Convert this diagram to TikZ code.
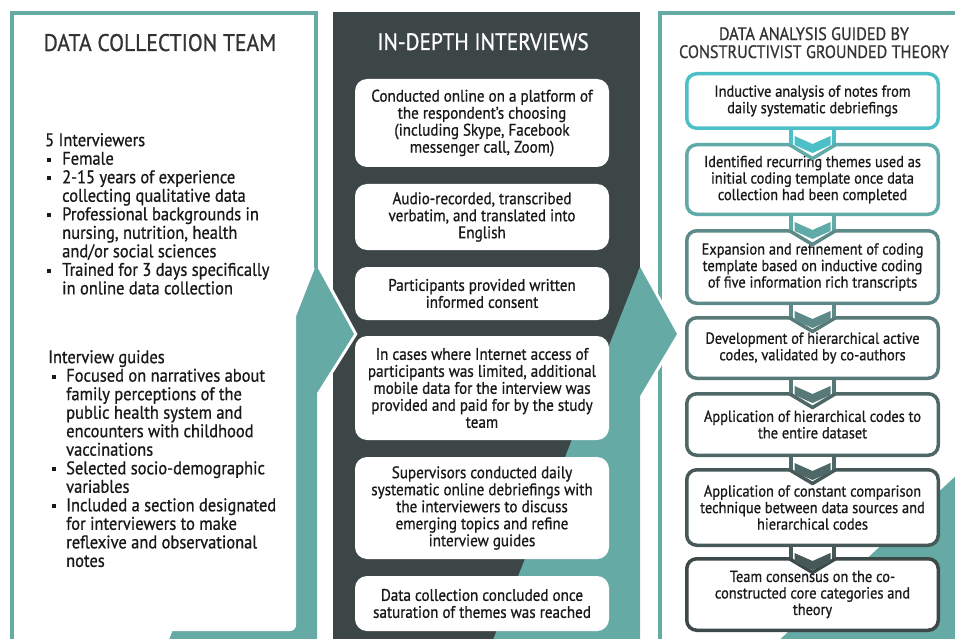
\documentclass[tikz,border=0pt]{standalone}
\usepackage{fontspec}
\setmainfont{PT Sans}[FakeStretch=0.9, FakeBold=0.8]
\usetikzlibrary{calc}
\definecolor{tealbase}{RGB}{102,170,166}
\definecolor{darkbase}{RGB}{61,70,71}
\colorlet{tealcol}{tealbase}
\colorlet{darkcol}{darkbase}
\colorlet{textcol}{black!90}
\colorlet{titlecol}{black!80}
\definecolor{code1col}{RGB}{76,192,198}
\definecolor{code2col}{RGB}{96,171,168}
\definecolor{code3col}{RGB}{93,138,136}
\definecolor{code4col}{RGB}{87,122,121}
\definecolor{code5col}{RGB}{78,103,103}
\definecolor{code6col}{RGB}{70,88,88}
\definecolor{code7col}{RGB}{61,72,72}
\newcommand{\sqbul}{\rule[3pt]{4pt}{4pt}}

\begin{document}
\begin{tikzpicture}[x=1pt, y=-1pt,
  midbox/.style={fill=white, rounded corners=12pt, minimum width=254pt,
    align=center, inner sep=0pt, text=textcol,
    font=\fontsize{16.8}{17}\selectfont},
  codebox/.style={draw=#1, line width=3.5pt, fill=white, rounded corners=10pt,
    minimum width=251.5pt, align=center, inner sep=0pt, text=textcol,
    font=\fontsize{16}{16.5}\selectfont}]

  \useasboundingbox (0,0) rectangle (955,639);

  % Middle column.
  \fill[darkcol] (333,12) rectangle (640,645);

  % Right panel frame and its teal corner.
  \fill[tealcol] (960,472) -- (960,645) -- (774,645) -- cycle;
  \draw[tealcol, line width=4pt] (660,645) -- (660,13.5) -- (960,13.5);

  % Teal band and arrow of the middle column.
  \draw[white, line width=6pt, line join=miter] (641,269) -- (677,334) -- (640,396);
  \fill[tealcol] (640,267) -- (677,334) -- (640,396) -- (640,645) -- (491,645) -- cycle;

  % Teal band and arrow of the left panel.
  \draw[white, line width=6pt, line join=miter] (318,268) -- (354,334) -- (317,393);
  \fill[tealcol] (316,265) -- (354,334) -- (317,393) -- (317,645) -- (167,645) -- cycle;

  % Left panel.
  \fill[white] (14,15.5) -- (314,15.5) -- (314,270) -- (296,316)
    [rounded corners=6pt] -- (296,631) -- (200,631)
    [sharp corners] -- (14,631) -- cycle;
  \draw[tealcol, line width=4pt] (12,645) -- (12,13.5) -- (316,13.5) -- (316,268);

  % Column titles.
  \node[anchor=base, inner sep=0pt, text=titlecol, font=\fontsize{24}{24}\selectfont]
    (teamtitle) at (160,51) {DATA COLLECTION TEAM};
  \node[anchor=base, inner sep=0pt, text=white, font=\fontsize{23.7}{23.7}\selectfont]
    (interviewtitle) at (483,50) {IN-DEPTH INTERVIEWS};
  \node[anchor=north, align=center, inner sep=0pt, text=titlecol,
    font=\fontsize{18}{18}\selectfont]
    (analysistitle) at (814,27) {DATA ANALYSIS GUIDED BY\\CONSTRUCTIVIST GROUNDED THEORY};

  % Data collection team.
  \node[anchor=north west, inner sep=0pt, text=textcol, font=\fontsize{18.3}{18.5}\selectfont]
    (team) at (45,133) {\begin{tabular}{@{\hspace{2pt}}l@{\hspace{11pt}}l@{}}
      \multicolumn{2}{@{}l@{}}{5 Interviewers}\\
      \sqbul & Female\\
      \sqbul & 2-15 years of experience\\
             & collecting qualitative data\\
      \sqbul & Professional backgrounds in\\
             & nursing, nutrition, health\\
             & and/or social sciences\\
      \sqbul & Trained for 3 days specifically\\
             & in online data collection
    \end{tabular}};

  \node[anchor=north west, inner sep=0pt, text=textcol, font=\fontsize{18.3}{18.5}\selectfont]
    (guides) at (48,350) {\begin{tabular}{@{\hspace{4pt}}l@{\hspace{10pt}}l@{}}
      \multicolumn{2}{@{}l@{}}{Interview guides}\\
      \sqbul & Focused on narratives about\\
             & family perceptions of the\\
             & public health system and\\
             & encounters with childhood\\
             & vaccinations\\
      \sqbul & Selected socio-demographic\\
             & variables\\
      \sqbul & Included a section designated\\
             & for interviewers to make\\
             & reflexive and observational\\
             & notes
    \end{tabular}};

  % In-depth interviews.
  \node[midbox, minimum height=88pt] (online) at (482,123)
    {Conducted online on a platform of\\the respondent’s choosing\\(including Skype, Facebook\\messenger call, Zoom)};
  \node[midbox, minimum height=66pt] (record) at (482,217)
    {Audio-recorded, transcribed\\verbatim, and translated into\\English};
  \node[midbox, minimum height=53pt] (consent) at (482,293.5)
    {Participants provided written\\informed consent};
  \node[midbox, minimum height=104pt] (mobile) at (482,388)
    {In cases where Internet access of\\participants was limited, additional\\mobile data for the interview was\\provided and paid for by the study\\team};
  \node[midbox, minimum height=102pt] (debrief) at (482,508)
    {Supervisors conducted daily\\systematic online debriefings with\\the interviewers to discuss\\emerging topics and refine\\interview guides};
  \node[midbox, minimum height=55pt] (saturation) at (482,603.5)
    {Data collection concluded once\\saturation of themes was reached};

  % Analysis steps.
  \node[codebox=code1col, minimum height=54.5pt] (notes) at (812.5,101)
    {Inductive analysis of notes from\\daily systematic debriefings};
  \node[codebox=code2col, minimum height=69.5pt] (themes) at (812.5,179.5)
    {Identified recurring themes used as\\initial coding template once data\\collection had been completed};
  \node[codebox=code3col, minimum height=72.5pt] (template) at (812.5,267)
    {Expansion and refinement of coding\\template based on inductive coding\\of five information rich transcripts};
  \node[codebox=code4col, minimum height=60.5pt] (active) at (812.5,348)
    {Development of hierarchical active\\codes, validated by co-authors};
  \node[codebox=code5col, minimum height=61.5pt] (dataset) at (812.5,424.5)
    {Application of hierarchical codes to\\the entire dataset};
  \node[codebox=code6col, minimum height=75.5pt] (compare) at (812.5,507.5)
    {Application of constant comparison\\technique between data sources and\\hierarchical codes};
  \node[codebox=code7col, minimum height=71.5pt] (consensus) at (812.5,594.5)
    {Team consensus on the co-\\constructed core categories and\\theory};

  % Chevrons between the steps.
  \foreach \a/\b/\ca/\cb in {notes/themes/code1col/code2col,
      themes/template/code2col/code3col, template/active/code3col/code4col,
      active/dataset/code4col/code5col, dataset/compare/code5col/code6col,
      compare/consensus/code6col/code7col} {
    \fill[white] ($(\a.south)+(-21.5,0)$) rectangle ($(\b.north)+(21.5,3.6)$);
    \draw[\ca, line width=3.5pt] ($(\a.south)+(-21.5,-1.75)$) -- ($(\b.north)+(-21.5,1.75)$);
    \draw[\ca, line width=3.5pt] ($(\a.south)+(21.5,-1.75)$) -- ($(\b.north)+(21.5,1.75)$);
    \draw[\cb, line width=3.5pt, line join=round]
      ($(\b.north)+(-23,1.75)$) -- ($(\b.north)+(0,15.5)$) -- ($(\b.north)+(23,1.75)$);
    \fill[\ca] ($(\a.south)+(-18,6)$) -- ($(\a.south)+(0,14)$) -- ($(\a.south)+(18,6)$)
      -- ($(\a.south)+(18,15)$) -- ($(\a.south)+(0,23)$) -- ($(\a.south)+(-18,15)$) -- cycle;
  }

\end{tikzpicture}
\end{document}
